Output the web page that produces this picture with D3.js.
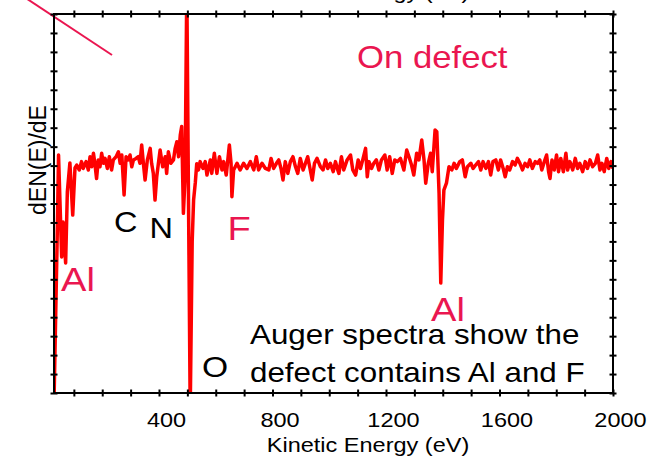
<!DOCTYPE html>
<html>
<head>
<meta charset="utf-8">
<script src="https://cdn.jsdelivr.net/npm/d3@7"></script>
<style>
  body { margin: 0; background: #fff; }
  text { font-family: "Liberation Sans", Arial, sans-serif; }
</style>
</head>
<body>
<div id="chart"></div>
<script>
// Auger spectrum (kinetic energy in eV, dN(E)/dE in tick units)
const energyEV = [
  30, 41, 46, 57, 62, 71, 77, 86, 96, 104,
  110,119,127,133,143,151,157,163,169,174,180,186,192,198,204,210,218,225,233,239,
  249,257,263,269,277,284,292,298,304,310,319,327,333,339,345,351,359,369,374,380,
  386,392,398,404,413,422,427,433,442,451,457,463,469,475,480,486,492,
  498, 510, 517, 522, 528, 533,
  539,545,555,563,569,581,586,595,604,613,622,628,637,648,654,657,663,675,686,698,
  710,722,734,743,751,763,775,787,795,804,814,822,830,837,845,854,863,872,881,889,
  898,908,916,924,931,940,948,957,969,978,987,995,1004,1014,1022,1030,
  1034,1043,1051,1063,1075,1083,1093,1102,1110,1118,1128,1134,1140,1149,1157,1166,1175,1184,1196,1204,
  1213,1222,1231,1240,1251,1263,1273,1281,1290,1298,1308,1316,1326,1334,1340,1349,1357,1363,1373,1379,
  1387,1393,1399,1404,1413,1422,1432,1440,1448,1460,1469,1479,1487,1499,1507,1516,
  1526,1534,1542,1552,1561,1569,1577,1587,1596,1604,1613,1620,1628,1636,1646,1655,1663,1672,1681,1690,
  1699,1707,1716,1726,1734,1742,1749,1758,1766,1773,1778,1785,1793,1801,1808,1816,1825,1834,1840,1848,
  1858,1867,1875,1883,1893,1902,1910,1919,1928,1938,1946,1954,1961,1969,1978,1985,1993,2000
];
const dNdE = [
  -12.5,-4.0,0.56,-4.82,-2.98,-5.14,-1.39,0.14,-2.61,-0.12,
  0.03,-0.23,0.21,-0.15,0.21,-0.23,0.47,-0.06,0.65,0.12,-0.68,0.30,-0.06,0.65,0.12,0.38,-0.15,0.47,-0.23,0.30,
  0.47,0.73,0.12,0.56,-1.55,0.47,0.30,0.56,-0.06,0.30,0.38,0.47,0.12,1.09,0.12,-0.76,0.30,0.91,0.12,-0.41,
  -1.82,-0.59,0.12,0.82,-0.06,0.47,-0.41,0.73,0.12,0.30,0.91,1.26,0.47,1.61,2.06,-2.52,-0.59,
  9.5, -13, -4.0, -1.8, -0.9, 0.1,
  -0.23,0.21,-0.15,0.21,-0.50,0.30,-0.41,0.65,-0.41,0.47,-0.23,0.21,-0.50,1.09,0.12,-1.64,-0.23,0.12,-0.23,0.12,
  -0.15,0.21,-0.23,0.47,-0.23,0.12,-0.15,-0.23,0.38,-0.15,0.12,0.30,-0.15,-0.76,0.21,-0.41,0.21,0.47,-0.06,-0.41,
  0.38,-0.23,0.12,0.47,-0.06,-0.76,0.12,0.38,-0.06,-0.23,0.30,-0.15,0.12,-0.32,0.21,-0.23,
  -0.41,0.47,-0.23,0.30,0.56,-0.23,-0.50,0.30,-0.15,0.30,0.91,-0.59,0.21,-0.15,0.12,0.30,-0.23,0.30,0.56,-0.23,
  0.47,-0.41,0.30,0.21,0.38,-0.23,0.82,0.47,0.03,-0.50,0.65,0.30,1.35,0.30,-0.93,0.12,0.65,-0.32,1.88,1.79,
  -1.46,-6.2,-2.87,-1.29,-0.93,-0.06,-0.23,0.12,-0.15,0.21,0.30,-0.59,-0.06,0.12,-0.15,0.03,
  0.21,-0.23,0.21,-0.15,0.21,-0.50,0.21,0.30,-0.23,0.30,-0.15,-0.59,-0.06,-0.23,0.21,0.03,0.38,0.12,-0.23,0.12,
  -0.06,0.30,-0.15,0.21,0.12,0.30,-0.23,0.21,0.56,-0.32,-0.68,0.30,-0.23,0.56,-0.32,0.38,-0.32,0.65,-0.23,0.21,
  -0.23,0.38,-0.15,0.12,-0.32,0.21,-0.15,0.30,-0.06,0.12,0.56,-0.23,0.12,-0.32,0.38,-0.15,0.21,-0.15
];
const xMinorTicks = d3.range(100, 2001, 100);
const xLabelTicks = [400, 800, 1200, 1600, 2000];
const yTicks = d3.range(-12, 9, 1);

const width = 652, height = 459;
const plot = { left: 54, right: 613, top: 14, bottom: 393 };
const red = "#ff0000", pink = "#ea1650";
const sx = 1.12; // the picture is slightly stretched sideways

const xScale = d3.scaleLinear().domain([30, 2000]).range([plot.left, plot.right]);
const yScale = d3.scaleLinear().domain([-12, 8]).range([plot.bottom, plot.top]);

const svg = d3.select("#chart").append("svg")
    .attr("width", width)
    .attr("height", height);

svg.append("clipPath").attr("id", "clip")
  .append("rect")
    .attr("x", plot.left).attr("y", plot.top)
    .attr("width", plot.right - plot.left).attr("height", plot.bottom - plot.top);

// leftover pointer line from the slide
svg.append("line")
    .attr("x1", 0).attr("y1", -19).attr("x2", 112).attr("y2", 55)
    .attr("stroke", pink).attr("stroke-width", 2);

// spectrum
const points = energyEV.map((e, i) => [e, dNdE[i]]);
const line = d3.line().x(d => xScale(d[0])).y(d => yScale(d[1]));
svg.append("path")
    .datum(points)
    .attr("clip-path", "url(#clip)")
    .attr("fill", "none")
    .attr("stroke", red)
    .attr("stroke-width", 3.5)
    .attr("stroke-linejoin", "round")
    .attr("d", line);

// frame
svg.append("rect")
    .attr("x", plot.left).attr("y", plot.top)
    .attr("width", plot.right - plot.left).attr("height", plot.bottom - plot.top)
    .attr("fill", "none").attr("stroke", "#000").attr("stroke-width", 2);

// ticks crossing the frame on all four sides
function crossTicks(g, horizontal) {
  g.select(".domain").remove();
  g.selectAll(".tick line")
      .attr("stroke", "#000").attr("stroke-width", 2)
      .attr(horizontal ? "y1" : "x1", -3.5)
      .attr(horizontal ? "y2" : "x2", 3.5);
}
svg.append("g").attr("transform", `translate(0,${plot.bottom})`)
    .call(d3.axisBottom(xScale).tickValues(xMinorTicks).tickFormat(""))
    .call(g => crossTicks(g, true));
svg.append("g").attr("transform", `translate(0,${plot.top})`)
    .call(d3.axisTop(xScale).tickValues(xMinorTicks).tickFormat(""))
    .call(g => crossTicks(g, true));
svg.append("g").attr("transform", `translate(${plot.left},0)`)
    .call(d3.axisLeft(yScale).tickValues(yTicks).tickFormat(""))
    .call(g => crossTicks(g, false));
svg.append("g").attr("transform", `translate(${plot.right},0)`)
    .call(d3.axisRight(yScale).tickValues(yTicks).tickFormat(""))
    .call(g => crossTicks(g, false));

// tick labels
const lab = svg.append("g").attr("transform", `translate(0,${plot.bottom})`)
    .call(d3.axisBottom(xScale).tickValues(xLabelTicks).tickSize(0).tickFormat(d3.format("d")));
lab.select(".domain").remove();
lab.selectAll(".tick text")
    .attr("y", null).attr("dy", null)
    .attr("transform", `translate(7,34) scale(${sx},1)`)
    .attr("font-size", 21)
    .attr("font-family", "Liberation Sans, Arial, sans-serif")
    .attr("fill", "#000");

function label(txt, x, y, size, color, anchor) {
  svg.append("text")
      .attr("transform", `translate(${x},${y}) scale(${sx},1)`)
      .attr("text-anchor", anchor || "start")
      .attr("font-size", size)
      .attr("fill", color)
      .text(txt);
}

// axis titles (the top one is the clipped title of the chart above)
label("Kinetic Energy (eV)", 368, 452, 21, "#000", "middle");
label("Kinetic Energy (eV)", 368, -1, 21, "#000", "middle");
svg.append("text")
    .attr("transform", "translate(46,160) rotate(-90)")
    .attr("text-anchor", "middle")
    .attr("font-size", 23)
    .attr("fill", "#000")
    .text("dEN(E)/dE");

// peak labels and notes
label("On defect", 357, 68, 31, pink);
label("Al", 61, 291, 34, pink);
label("Al", 431, 321, 34, pink);
label("C", 114, 232, 29, "#000");
label("N", 149.5, 237.5, 29, "#000");
label("F", 227.5, 240, 34, pink);
label("O", 202, 377, 30, "#000");
label("Auger spectra show the", 250, 344, 28, "#000");
label("defect contains Al and F", 250, 382, 28, "#000");
</script>
</body>
</html>
